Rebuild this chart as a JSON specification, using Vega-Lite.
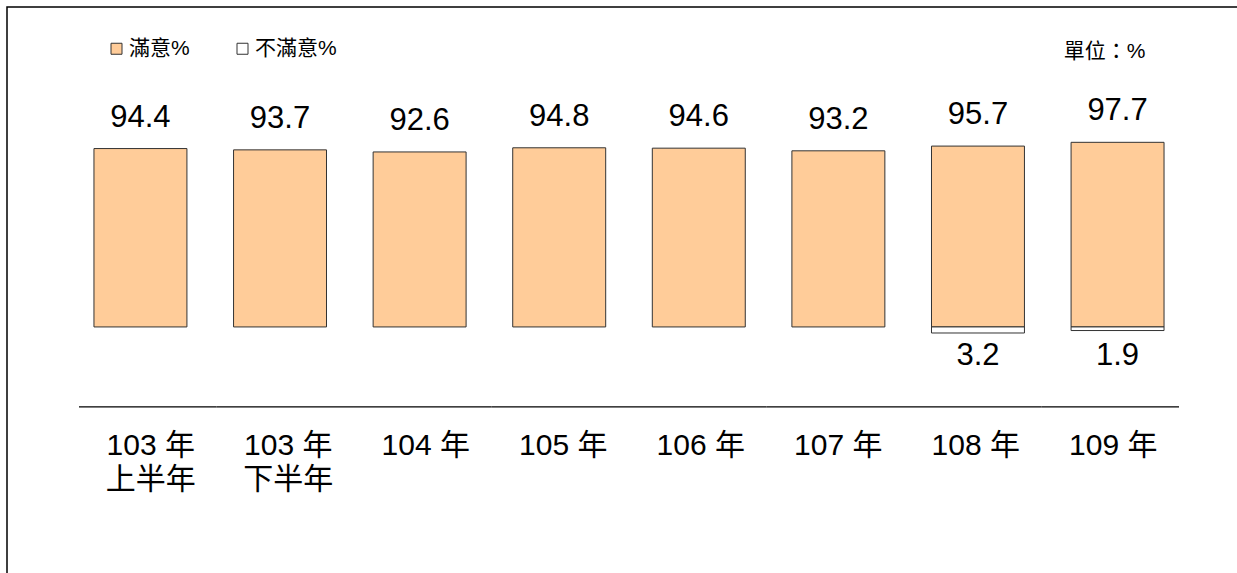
{
  "$schema": "https://vega.github.io/schema/vega-lite/v6.json",
  "width": 1244,
  "height": 573,
  "autosize": {"type": "none"},
  "padding": {"left": 7, "top": 7, "right": 0, "bottom": 0},
  "background": "white",
  "config": {
    "view": {"stroke": "black", "strokeWidth": 1.5},
    "font": "Liberation Sans, Noto Sans CJK TC",
    "text": {"font": "Liberation Sans, Noto Sans CJK TC"},
    "legend": {"labelFont": "Liberation Sans, Noto Sans CJK TC"}
  },
  "data": {
    "values": [
      {"year": "103 年\n上半年", "滿意%": 94.4, "不滿意%": null},
      {"year": "103 年\n下半年", "滿意%": 93.7, "不滿意%": null},
      {"year": "104 年", "滿意%": 92.6, "不滿意%": null},
      {"year": "105 年", "滿意%": 94.8, "不滿意%": null},
      {"year": "106 年", "滿意%": 94.6, "不滿意%": null},
      {"year": "107 年", "滿意%": 93.2, "不滿意%": null},
      {"year": "108 年", "滿意%": 95.7, "不滿意%": 3.2},
      {"year": "109 年", "滿意%": 97.7, "不滿意%": 1.9}
    ]
  },
  "transform": [{"fold": ["滿意%", "不滿意%"], "as": ["kind", "value"]}],
  "encoding": {
    "x": {"field": "year", "type": "nominal", "axis": null,
          "scale": {"type": "band", "domain": ["103 年\n上半年", "103 年\n下半年", "104 年", "105 年", "106 年", "107 年", "108 年", "109 年"],
                    "paddingInner": 0.334, "paddingOuter": 0.623}}
  },
  "layer": [
    {
      "transform": [{"filter": {"field": "kind", "equal": "滿意%"}}],
      "mark": {"type": "bar", "stroke": "#333333", "strokeWidth": 1},
      "encoding": {
        "y": {"field": "value", "type": "quantitative", "axis": null,
              "scale": {"domain": [-133.9, 169.3], "nice": false, "zero": false}},
        "y2": {"datum": 0},
        "color": {"field": "kind", "type": "nominal",
                  "scale": {"domain": ["滿意%", "不滿意%"], "range": ["#FFCC99", "#FFFFFF"]},
                  "legend": {"orient": "none", "legendX": 99, "legendY": 31, "direction": "horizontal",
                             "title": null, "symbolType": "square", "symbolSize": 121,
                             "symbolStrokeColor": "#333333", "symbolStrokeWidth": 1, "symbolOpacity": 1,
                             "labelFontSize": 21, "labelColor": "#000000", "labelOffset": 2, "columnPadding": 42}}
      }
    },
    {
      "transform": [{"filter": {"field": "kind", "equal": "滿意%"}}],
      "mark": {"type": "text", "fontSize": 31, "baseline": "alphabetic", "dy": -22, "color": "#000000"},
      "encoding": {
        "y": {"field": "value", "type": "quantitative", "axis": null,
              "scale": {"domain": [-133.9, 169.3], "nice": false, "zero": false}},
        "text": {"field": "value", "type": "quantitative", "format": ".1f"}
      }
    },
    {
      "transform": [{"filter": {"field": "kind", "equal": "滿意%"}}],
      "mark": {"type": "text", "fontSize": 30, "baseline": "alphabetic", "lineBreak": "\n", "lineHeight": 34, "color": "#000000", "dx": 3},
      "encoding": {
        "x": {"field": "year", "type": "nominal", "axis": null,
              "scale": {"type": "band", "domain": ["103 年\n上半年", "103 年\n下半年", "104 年", "105 年", "106 年", "107 年", "108 年", "109 年"],
                        "paddingInner": 0, "paddingOuter": 0.5236}},
        "y": {"datum": -67.7, "type": "quantitative", "axis": null,
              "scale": {"domain": [-133.9, 169.3], "nice": false, "zero": false}},
        "text": {"field": "year", "type": "nominal"}
      }
    },
    {
      "transform": [{"filter": {"field": "kind", "equal": "滿意%"}}],
      "mark": {"type": "rule", "stroke": "#000000", "strokeWidth": 1.3},
      "encoding": {
        "x": {"field": "year", "type": "nominal", "bandPosition": 0, "axis": null,
              "scale": {"type": "band", "domain": ["103 年\n上半年", "103 年\n下半年", "104 年", "105 年", "106 年", "107 年", "108 年", "109 年"],
                        "paddingInner": 0, "paddingOuter": 0.5236}},
        "x2": {"field": "year", "bandPosition": 1},
        "y": {"datum": -42.3, "type": "quantitative", "axis": null,
              "scale": {"domain": [-133.9, 169.3], "nice": false, "zero": false}}
      }
    },
    {
      "transform": [{"filter": {"field": "year", "equal": "109 年"}}, {"filter": {"field": "kind", "equal": "滿意%"}}],
      "mark": {"type": "text", "fontSize": 21, "align": "right", "baseline": "alphabetic", "dx": 28, "color": "#000000", "text": "單位：%"},
      "encoding": {
        "y": {"datum": 142.3, "type": "quantitative", "axis": null,
              "scale": {"domain": [-133.9, 169.3], "nice": false, "zero": false}}
      }
    },
    {
      "transform": [{"filter": {"field": "kind", "equal": "不滿意%"}}, {"filter": {"field": "value", "valid": true}}],
      "mark": {"type": "bar", "stroke": "#333333", "strokeWidth": 1},
      "encoding": {
        "y": {"field": "value", "type": "quantitative", "axis": null,
              "scale": {"domain": [-169.3, 133.9], "nice": false, "zero": false, "reverse": true}},
        "y2": {"datum": 0},
        "color": {"field": "kind", "type": "nominal"}
      }
    },
    {
      "transform": [{"filter": {"field": "kind", "equal": "不滿意%"}}, {"filter": {"field": "value", "valid": true}}],
      "mark": {"type": "text", "fontSize": 31, "baseline": "alphabetic", "color": "#000000"},
      "encoding": {
        "y": {"datum": 20.1, "type": "quantitative", "axis": null,
              "scale": {"domain": [-169.3, 133.9], "nice": false, "zero": false, "reverse": true}},
        "text": {"field": "value", "type": "quantitative", "format": ".1f"}
      }
    }
  ],
  "resolve": {"scale": {"y": "independent", "x": "independent"}}
}
